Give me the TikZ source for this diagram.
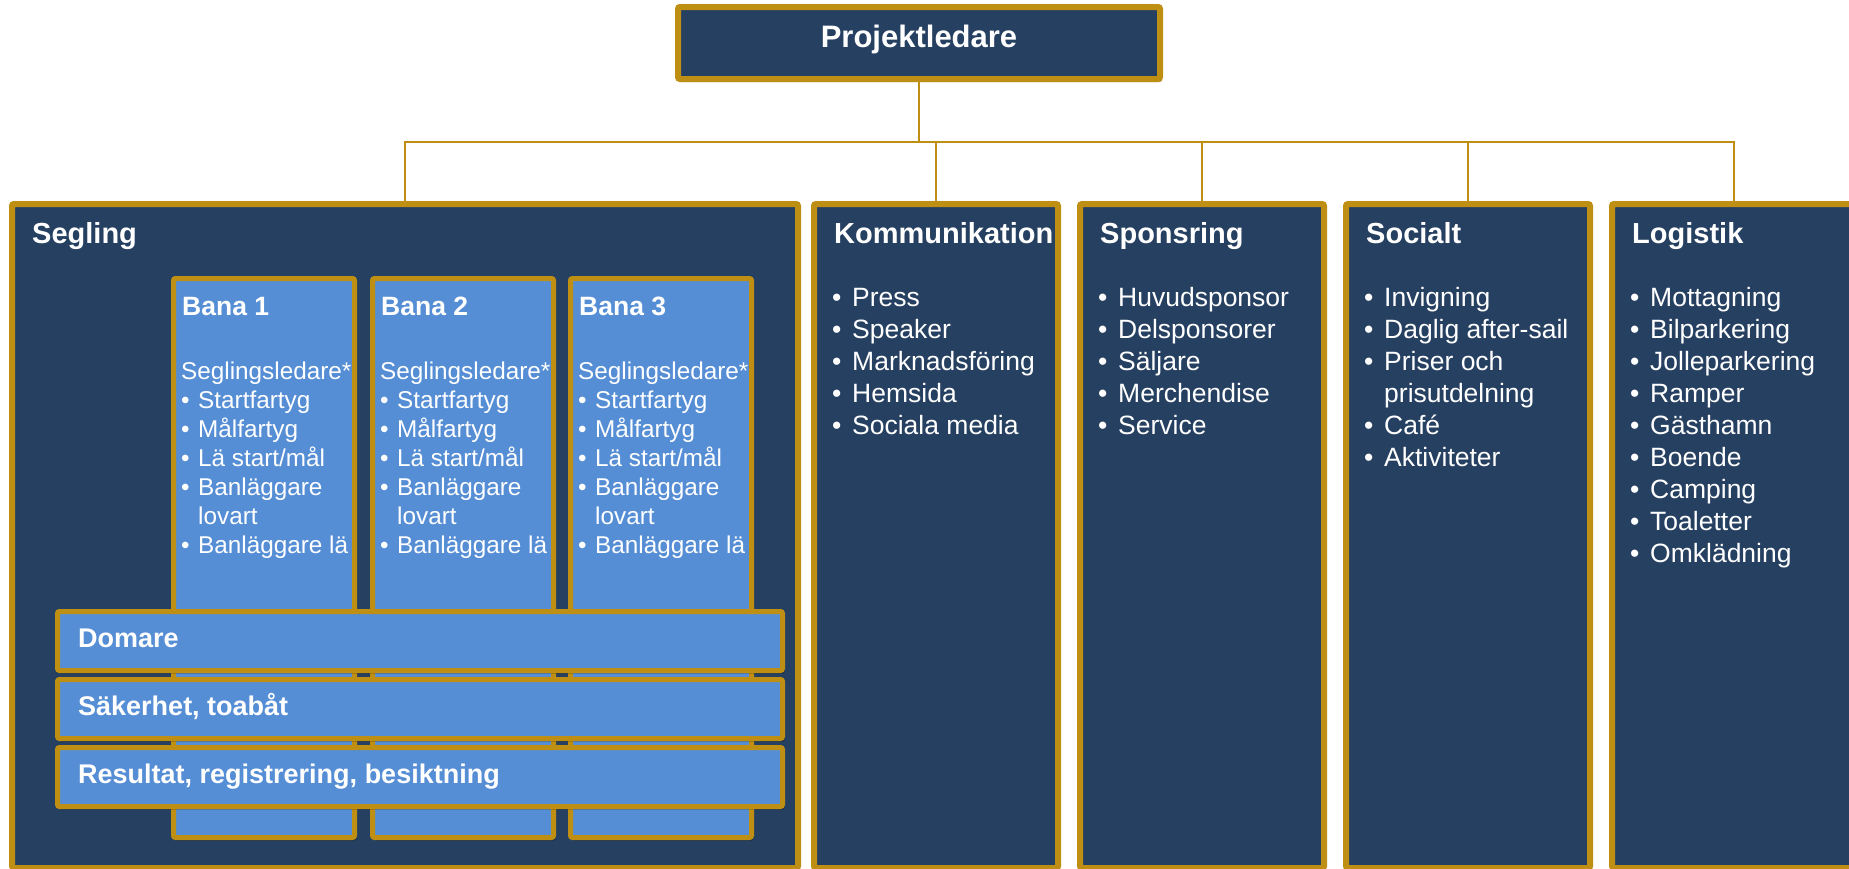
\documentclass[tikz,border=0pt]{standalone}
\usepackage{fontspec}
\setmainfont{Liberation Sans}
\usetikzlibrary{shadows}
\definecolor{navy}{HTML}{264061}
\definecolor{lblue}{HTML}{558ED5}
\definecolor{gold}{HTML}{BF8F13}
\newcommand\itm[1]{\makebox[20pt][l]{•}#1}
\newcommand\cnt[1]{\hspace*{20pt}#1}
\newcommand\bitm[1]{\makebox[17pt][l]{•}#1}
\newcommand\bcnt[1]{\hspace*{17pt}#1}
\newcommand\fixlines{\lineskiplimit=-100pt\lineskip=0pt}
\tikzset{
  shd/.style={drop shadow={shadow xshift=2pt, shadow yshift=-3pt, opacity=0.28, fill=black}},
  navybox/.style={draw=gold, line width=6pt, fill=navy, rounded corners=2pt, inner sep=0pt, outer sep=0pt, anchor=north west, shd},
  bluebox/.style={draw=gold, line width=5pt, fill=lblue, rounded corners=2pt, inner sep=0pt, outer sep=0pt, anchor=north west, shd},
  conn/.style={draw=gold, line width=2pt},
  toptxt/.style={text=white, font=\fontsize{31}{37}\selectfont\bfseries, anchor=base, inner sep=0pt},
  head/.style={text=white, font=\fontsize{29}{35}\selectfont\bfseries, anchor=base west, inner sep=0pt},
  bhead/.style={text=white, font=\fontsize{26.5}{32}\selectfont\bfseries, anchor=base west, inner sep=0pt},
  bartxt/.style={text=white, font=\fontsize{27}{32}\selectfont\bfseries, anchor=base west, inner sep=0pt},
  lst/.style={text=white, font=\fontsize{26.5}{32}\selectfont\fixlines, anchor=base west, inner sep=0pt},
  blst/.style={text=white, font=\fontsize{24.3}{29}\selectfont\fixlines, anchor=base west, inner sep=0pt},
}
\begin{document}
\begin{tikzpicture}[x=1pt, y=-1pt]
\useasboundingbox (0,0) rectangle (1849,868);
\clip (0,0) rectangle (1849,868);
\fill[white] (0,0) rectangle (1849,868);

% top box
\node[navybox, minimum width=482, minimum height=72] (proj) at (678,7) {};
\node[toptxt] (projt) at (919,47) {Projektledare};

% columns
\node[navybox, minimum width=786, minimum height=664] (seg) at (12,204) {};
\node[navybox, minimum width=244, minimum height=664] (komm) at (814,204) {};
\node[navybox, minimum width=244, minimum height=664] (spons) at (1080,204) {};
\node[navybox, minimum width=244, minimum height=664] (soc) at (1346,204) {};
\node[navybox, minimum width=244, minimum height=664] (log) at (1612,204) {};

% connectors
\draw[conn] (proj.south) -- ++(0,63) coordinate (hub);
\draw[conn] (seg.north) -- (seg.north |- hub) -- (log.north |- hub) -- (log.north);
\foreach \n in {komm,spons,soc} \draw[conn] (\n.north |- hub) -- (\n.north);

% headings
\node[head] (segt) at (32,243) {Segling};
\node[head] (kommt) at (834,243) {Kommunikation};
\node[head] (sponst) at (1100,243) {Sponsring};
\node[head] (soct) at (1366,243) {Socialt};
\node[head] (logt) at (1632,243) {Logistik};

% lists
\node[lst] (komml) at (832,306) {\parbox[t]{240pt}{\itm{Press}\\\itm{Speaker}\\\itm{Marknadsföring}\\\itm{Hemsida}\\\itm{Sociala media}}};
\node[lst] (sponsl) at (1098,306) {\parbox[t]{240pt}{\itm{Huvudsponsor}\\\itm{Delsponsorer}\\\itm{Säljare}\\\itm{Merchendise}\\\itm{Service}}};
\node[lst] (socl) at (1364,306) {\parbox[t]{240pt}{\itm{Invigning}\\\itm{Daglig after-sail}\\\itm{Priser och}\\\cnt{prisutdelning}\\\itm{Café}\\\itm{Aktiviteter}}};
\node[lst] (logl) at (1630,306) {\parbox[t]{240pt}{\itm{Mottagning}\\\itm{Bilparkering}\\\itm{Jolleparkering}\\\itm{Ramper}\\\itm{Gästhamn}\\\itm{Boende}\\\itm{Camping}\\\itm{Toaletter}\\\itm{Omklädning}}};

% Bana boxes
\foreach \i/\x in {1/173.5, 2/372.5, 3/570.5} {
  \node[bluebox, minimum width=181, minimum height=559] (bana\i) at (\x,278.5) {};
  \node[bhead] (bana\i t) at (\x+8.5,315) {Bana \i};
  \node[blst] (bana\i l) at (\x+7.5,379) {\parbox[t]{180pt}{Seglingsledare*\\\bitm{Startfartyg}\\\bitm{Målfartyg}\\\bitm{Lä start/mål}\\\bitm{Banläggare}\\\bcnt{lovart}\\\bitm{Banläggare lä}}};
}

% bars
\node[bluebox, minimum width=725, minimum height=59] (dom) at (57.5,611.5) {};
\node[bartxt] (domt) at (78,647) {Domare};
\node[bluebox, minimum width=725, minimum height=59] (sak) at (57.5,679.5) {};
\node[bartxt] (sakt) at (78,715) {Säkerhet, toabåt};
\node[bluebox, minimum width=725, minimum height=59] (res) at (57.5,747.5) {};
\node[bartxt] (rest) at (78,783) {Resultat, registrering, besiktning};
\end{tikzpicture}
\end{document}
